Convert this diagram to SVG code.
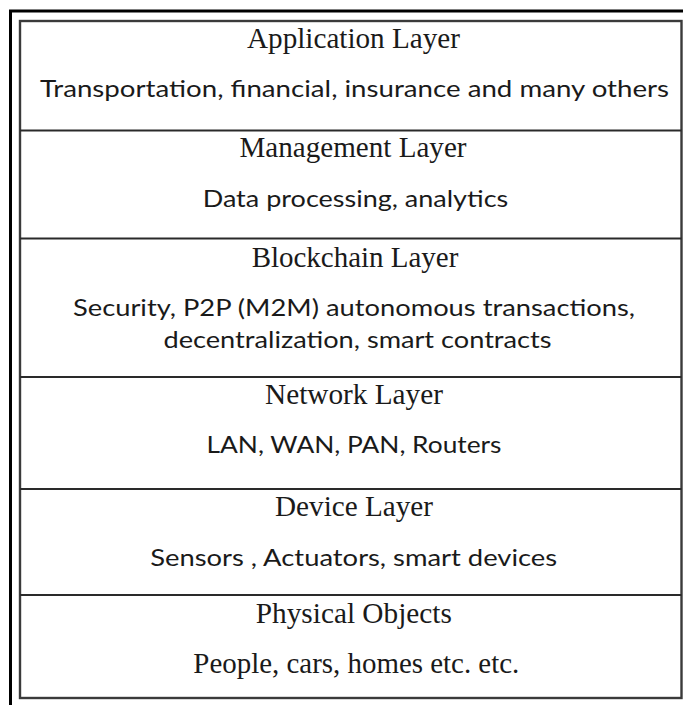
<svg xmlns="http://www.w3.org/2000/svg" width="683" height="705" viewBox="0 0 683 705">
<style>
.frame{fill:none;stroke:#000;stroke-width:3}
.box{fill:none;stroke:#3a3a3a;stroke-width:2.4}
.div{stroke:#2a2a2a;stroke-width:2.2}
.t{font-family:"Liberation Serif","Times New Roman",serif;font-size:29px;fill:#1a1a1a;text-anchor:middle}
.b{font-family:Lato,"Liberation Sans",sans-serif;font-size:24px;fill:#1a1a1a;text-anchor:middle}
</style>
<rect width="683" height="705" fill="#fff"/>
<g id="frame">
<path class="frame" d="M10.5,705 V11 H683"/>
<rect class="box" x="20" y="21" width="661.5" height="677"/>
</g>
<g id="connectors">
<line class="div" x1="20" y1="130.5" x2="681.5" y2="130.5"/>
<line class="div" x1="20" y1="238.5" x2="681.5" y2="238.5"/>
<line class="div" x1="20" y1="377" x2="681.5" y2="377"/>
<line class="div" x1="20" y1="489" x2="681.5" y2="489"/>
<line class="div" x1="20" y1="595" x2="681.5" y2="595"/>
</g>
<g id="application">
<text class="t" x="353.5" y="47.5" textLength="213" lengthAdjust="spacingAndGlyphs">Application Layer</text>
<text class="b" x="354.5" y="96.7" textLength="629" lengthAdjust="spacingAndGlyphs">Transportation, financial, insurance and many others</text>
</g>
<g id="management">
<text class="t" x="353" y="156.7" textLength="227" lengthAdjust="spacingAndGlyphs">Management Layer</text>
<text class="b" x="355.5" y="207.3" textLength="305.6" lengthAdjust="spacingAndGlyphs">Data processing, analytics</text>
</g>
<g id="blockchain">
<text class="t" x="355" y="266.7" textLength="206.7" lengthAdjust="spacingAndGlyphs">Blockchain Layer</text>
<text class="b" x="354" y="316" textLength="562" lengthAdjust="spacingAndGlyphs">Security, P2P (M2M) autonomous transactions,</text>
<text class="b" x="357.5" y="348.3" textLength="388" lengthAdjust="spacingAndGlyphs">decentralization, smart contracts</text>
</g>
<g id="network">
<text class="t" x="354" y="404" textLength="178" lengthAdjust="spacingAndGlyphs">Network Layer</text>
<text class="b" x="354" y="452.7" textLength="295" lengthAdjust="spacingAndGlyphs">LAN, WAN, PAN, Routers</text>
</g>
<g id="device">
<text class="t" x="354" y="516" textLength="158" lengthAdjust="spacingAndGlyphs">Device Layer</text>
<text class="b" x="353.7" y="566" textLength="407" lengthAdjust="spacingAndGlyphs">Sensors , Actuators, smart devices</text>
</g>
<g id="physical">
<text class="t" x="353.8" y="623.3" textLength="196" lengthAdjust="spacingAndGlyphs">Physical Objects</text>
<text class="t" x="356.3" y="672.7" textLength="326" lengthAdjust="spacingAndGlyphs">People, cars, homes etc. etc.</text>
</g>
</svg>
